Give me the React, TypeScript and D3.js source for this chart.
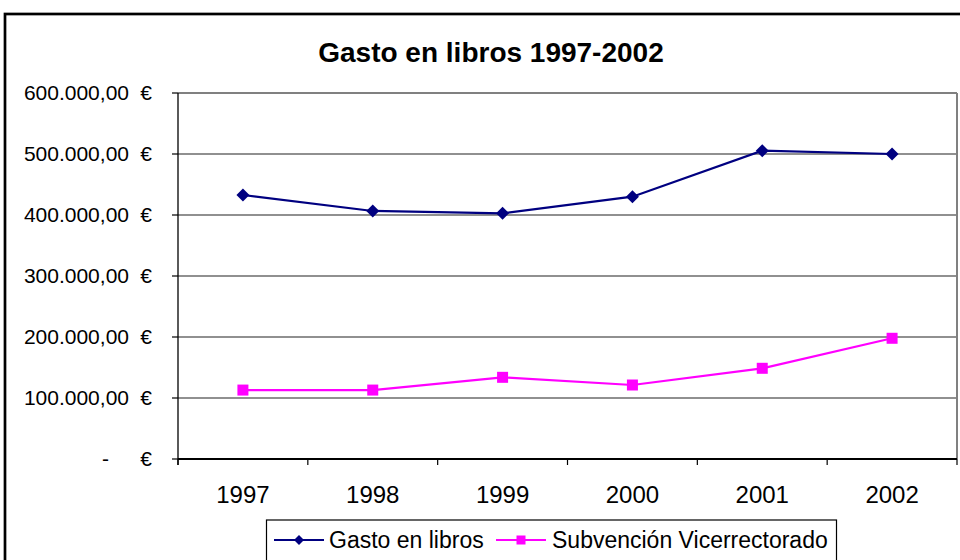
import React from "react";
import * as d3 from "d3";

const years = ["1997", "1998", "1999", "2000", "2001", "2002"];
const gastoLibros = [432800, 406600, 402800, 430000, 505400, 500000];
const subvencion = [113000, 113000, 133900, 121300, 148700, 197900];
const yTicks = [0, 100000, 200000, 300000, 400000, 500000, 600000];
const seriesNames = ["Gasto en libros", "Subvención Vicerrectorado"];

const W = 960;
const H = 560;
const plotLeft = 178;
const plotRight = 957;
const plotTop = 93;
const plotBottom = 459;
const FONT = "'Liberation Sans', Arial, sans-serif";

const fmt = (v: number) => {
  const s = d3.format(",.2f")(v);
  return s.replace(/,/g, "#").replace(".", ",").replace(/#/g, ".");
};

export default function App() {
  const x = d3.scaleBand<string>().domain(years).range([plotLeft, plotRight]);
  const y = d3.scaleLinear().domain([0, 600000]).range([plotBottom, plotTop]);
  const cx = (d: string) => (x(d) as number) + x.bandwidth() / 2;

  const line = d3
    .line<number>()
    .x((_, i) => cx(years[i]))
    .y((d) => y(d));

  const diamond = (px: number, py: number, r: number) =>
    `M${px},${py - r}L${px + r},${py}L${px},${py + r}L${px - r},${py}Z`;

  const bandEdges = years.map((d) => x(d) as number).concat([plotRight]);

  return (
    <svg
      width={W}
      height={H}
      style={{ position: "absolute", left: 0, top: 0, background: "#fff" }}
      fontFamily={FONT}
    >
      <rect x={0} y={0} width={W} height={H} fill="#fff" />
      {/* outer chart border */}
      <rect x={5} y={14} width={1000} height={700} fill="none" stroke="#000" strokeWidth={2.7} />

      {/* title */}
      <text x={491} y={62} textAnchor="middle" fontSize={28} fontWeight="bold" fill="#000">
        Gasto en libros 1997-2002
      </text>

      {/* gridlines */}
      {yTicks.slice(1, -1).map((t) => (
        <line key={t} x1={plotLeft} x2={plotRight} y1={y(t)} y2={y(t)} stroke="#222" strokeWidth={1.2} />
      ))}
      {/* plot border (top & right) */}
      <line x1={plotLeft} x2={plotRight} y1={plotTop} y2={plotTop} stroke="#808080" strokeWidth={2} />
      <line x1={plotRight} x2={plotRight} y1={plotTop} y2={plotBottom} stroke="#808080" strokeWidth={2} />

      {/* y axis */}
      <line x1={plotLeft} x2={plotLeft} y1={plotTop} y2={plotBottom + 6} stroke="#000" strokeWidth={1.3} />
      {yTicks.map((t) => (
        <g key={t}>
          <line x1={plotLeft - 6} x2={plotLeft} y1={y(t)} y2={y(t)} stroke="#000" strokeWidth={1.2} />
          {t === 0 ? (
            <text x={109} y={y(t) + 7} textAnchor="end" fontSize={21} fill="#000">
              -
            </text>
          ) : (
            <text x={129} y={y(t) + 7} textAnchor="end" fontSize={21} fill="#000">
              {fmt(t)}
            </text>
          )}
          <text x={152} y={y(t) + 7} textAnchor="end" fontSize={21} fill="#000">
            €
          </text>
        </g>
      ))}

      {/* x axis */}
      <line x1={plotLeft} x2={plotRight} y1={plotBottom} y2={plotBottom} stroke="#000" strokeWidth={2} />
      {bandEdges.map((e, i) => (
        <line key={i} x1={e} x2={e} y1={plotBottom} y2={plotBottom + 6} stroke="#000" strokeWidth={1.2} />
      ))}
      {years.map((d) => (
        <text key={d} x={cx(d)} y={503} textAnchor="middle" fontSize={24} fill="#000">
          {d}
        </text>
      ))}

      {/* series lines */}
      <path d={line(gastoLibros) as string} fill="none" stroke="#000080" strokeWidth={2.2} />
      <path d={line(subvencion) as string} fill="none" stroke="#FF00FF" strokeWidth={2.2} />
      {gastoLibros.map((v, i) => (
        <path key={"g" + i} d={diamond(cx(years[i]), y(v), 6.5)} fill="#000080" />
      ))}
      {subvencion.map((v, i) => (
        <rect key={"s" + i} x={cx(years[i]) - 5.5} y={y(v) - 5.5} width={11} height={11} fill="#FF00FF" />
      ))}

      {/* legend */}
      <rect x={266.5} y={520} width={570} height={60} fill="#fff" stroke="#000" strokeWidth={1.2} />
      <line x1={274} x2={324} y1={540} y2={540} stroke="#000080" strokeWidth={2.2} />
      <path d={diamond(299, 540, 5)} fill="#000080" />
      <text x={329} y={548} fontSize={23} fill="#000">
        {seriesNames[0]}
      </text>
      <line x1={496} x2={546} y1={540} y2={540} stroke="#FF00FF" strokeWidth={2.2} />
      <rect x={516.5} y={535.5} width={9} height={9} fill="#FF00FF" />
      <text x={552} y={548} fontSize={23} fill="#000">
        {seriesNames[1]}
      </text>
    </svg>
  );
}
